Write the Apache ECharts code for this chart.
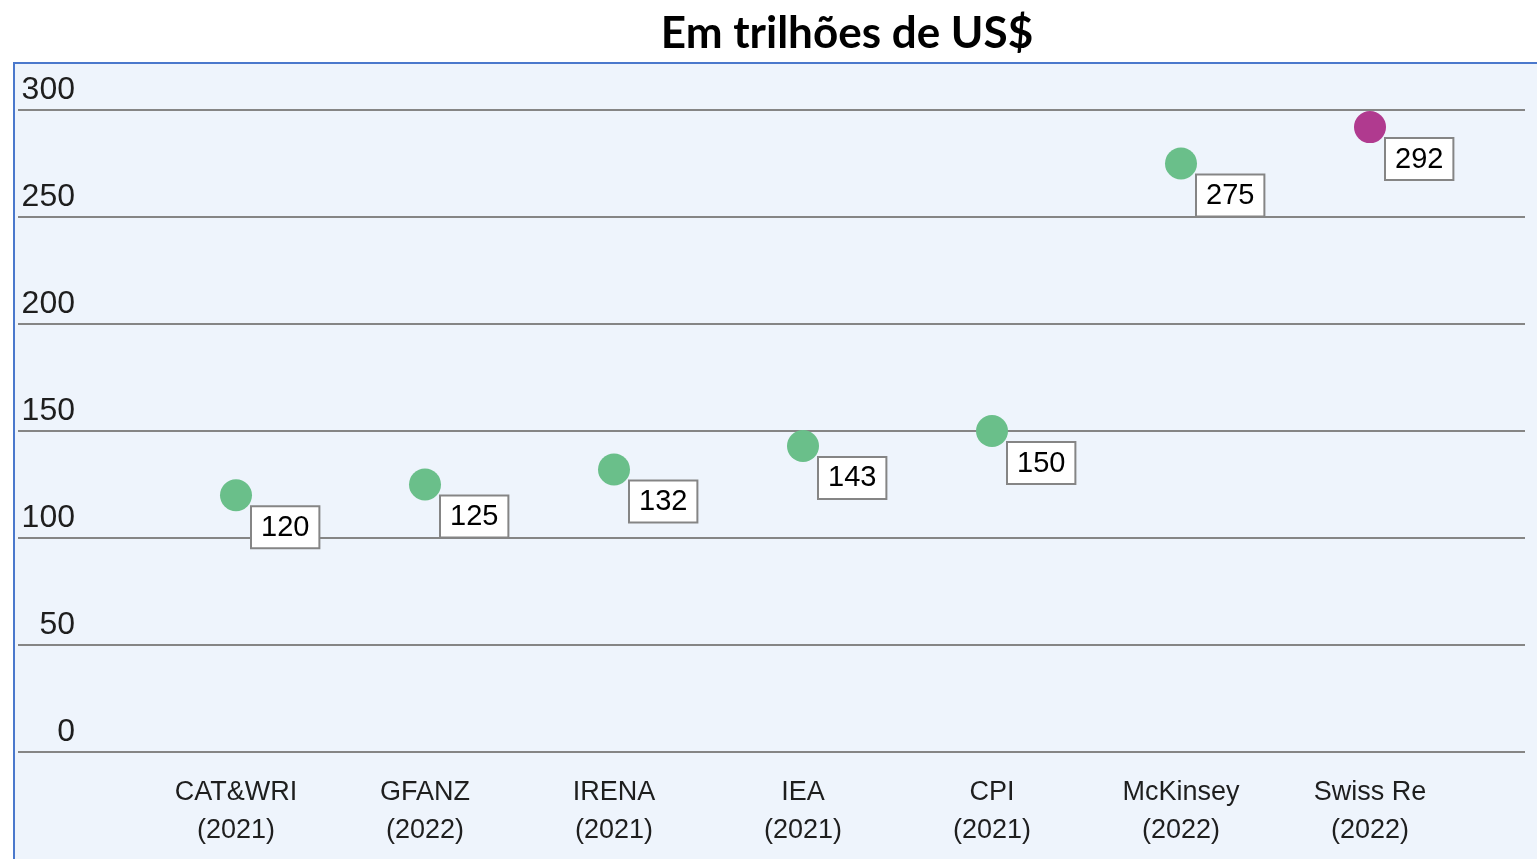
<!DOCTYPE html>
<html>
  <head>
    <meta charset="UTF-8" />
    <title>Em trilhões de US$</title>
    <script src="https://cdn.jsdelivr.net/npm/echarts@6/dist/echarts.min.js"></script>
    <style>
      body {
        padding: 0;
        margin: 0;
        background: #fff;
      }
      #main {
        width: 1537px;
        height: 859px;
      }
    </style>
  </head>
  <body>
    <div id="main"></div>
    <script type="text/javascript">
      // dados
      var fontes = ["CAT&WRI", "GFANZ", "IRENA", "IEA", "CPI", "McKinsey", "Swiss Re"];
      var anos = ["2021", "2022", "2021", "2021", "2021", "2022", "2022"];
      var valores = [120, 125, 132, 143, 150, 275, 292];
      var destaque = "Swiss Re";

      var categorias = fontes.map(function(f, i) {
        return f + "\n(" + anos[i] + ")";
      });

      var pontos = valores.map(function(v, i) {
        return {
          value: v,
          itemStyle: { color: fontes[i] === destaque ? "#b03a8f" : "#6abf8a" }
        };
      });

      var chart = echarts.init(document.getElementById("main"));
      var option = {
        backgroundColor: "#fff",
        animation: false,
        title: {
          text: "Em trilhões de US$",
          left: 842,
          top: 7,
          textAlign: "center",
          textStyle: {
            fontFamily: "Lato",
            fontWeight: "bold",
            fontSize: 44,
            color: "#000"
          }
        },
        graphic: [
          {
            type: "rect",
            z: -10,
            shape: { x: 14, y: 63, width: 1540, height: 810 },
            style: { fill: "#eef4fc", stroke: "#4a78cc", lineWidth: 2 }
          }
        ],
        grid: [
          { left: 18, right: 12, top: 110, bottom: 107 },
          { left: 141.5, right: 72.5, top: 110, bottom: 107 }
        ],
        xAxis: [
          { gridIndex: 0, type: "value", show: false, min: 0, max: 1 },
          {
            gridIndex: 1,
            type: "category",
            data: categorias,
            axisLine: { show: false },
            axisTick: { show: false },
            axisLabel: {
              margin: 22,
              fontFamily: "Liberation Sans",
              fontSize: 27,
              lineHeight: 38,
              color: "#1e1e1e"
            }
          }
        ],
        yAxis: [
          {
            gridIndex: 0,
            type: "value",
            min: 0,
            max: 300,
            interval: 50,
            axisLine: { show: false },
            axisTick: { show: false },
            splitLine: { lineStyle: { color: "#858585", width: 2 } },
            axisLabel: {
              inside: true,
              margin: 57,
              align: "right",
              verticalAlign: "bottom",
              padding: [0, 0, 4, 0],
              fontFamily: "Liberation Sans",
              fontSize: 32,
              color: "#1e1e1e"
            }
          },
          { gridIndex: 1, type: "value", min: 0, max: 300, show: false }
        ],
        series: [
          {
            type: "scatter",
            xAxisIndex: 1,
            yAxisIndex: 1,
            symbolSize: 32,
            itemStyle: { opacity: 1 },
            data: pontos,
            label: {
              show: true,
              position: [32, 28],
              backgroundColor: "#fff",
              borderColor: "#858585",
              borderWidth: 2,
              padding: [6, 9, 5, 9],
              fontFamily: "Liberation Sans",
              fontSize: 29,
              color: "#000"
            }
          }
        ]
      };
      chart.setOption(option);
    </script>
  </body>
</html>
